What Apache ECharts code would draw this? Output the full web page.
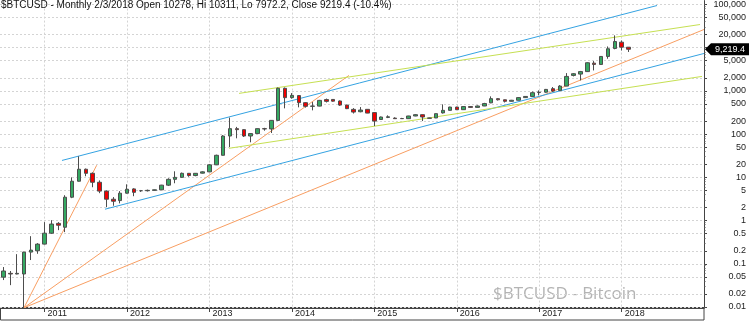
<!DOCTYPE html>
<html><head><meta charset="utf-8">
<script src="https://cdn.jsdelivr.net/npm/echarts@6/dist/echarts.min.js"></script>
<style>html,body{margin:0;padding:0;background:#fff}#c{width:749px;height:321px}</style>
</head><body><div id="c"></div>
<script>
const months = ['2010-07','2010-08','2010-09','2010-10','2010-11','2010-12',
'2011-01','2011-02','2011-03','2011-04','2011-05','2011-06','2011-07','2011-08','2011-09','2011-10','2011-11','2011-12',
'2012-01','2012-02','2012-03','2012-04','2012-05','2012-06','2012-07','2012-08','2012-09','2012-10','2012-11','2012-12',
'2013-01','2013-02','2013-03','2013-04','2013-05','2013-06','2013-07','2013-08','2013-09','2013-10','2013-11','2013-12',
'2014-01','2014-02','2014-03','2014-04','2014-05','2014-06','2014-07','2014-08','2014-09','2014-10','2014-11','2014-12',
'2015-01','2015-02','2015-03','2015-04','2015-05','2015-06','2015-07','2015-08','2015-09','2015-10','2015-11','2015-12',
'2016-01','2016-02','2016-03','2016-04','2016-05','2016-06','2016-07','2016-08','2016-09','2016-10','2016-11','2016-12',
'2017-01','2017-02','2017-03','2017-04','2017-05','2017-06','2017-07','2017-08','2017-09','2017-10','2017-11','2017-12',
'2018-01','2018-02'];

const opens = [0.049,0.060,0.058,0.058,0.186,0.20,
0.285,0.51,0.86,0.70,3.47,8.13,15.4,12.4,7.7,4.8,3.12,2.9,
4.3,5.4,4.9,4.9,5.0,5.15,6.6,9.0,10.0,12.4,11.0,12.5,
13.4,19.5,32.4,90.5,134,127,90.5,103,134,132,208,1150,
700,780,535,440,445,630,635,585,470,374,330,375,
315,218,244,235,230,228,263,282,232,237,310,355,
423,368,435,416,448,530,662,624,575,608,700,745,
920,935,1127,1029,1294,2286,2450,2800,4395,4100,6280,9600,
13430,10278];

const closes = [0.068,0.058,0.060,0.186,0.207,0.285,
0.51,0.83,0.78,3.47,8.13,15.4,12.4,7.7,4.8,3.12,2.8,4.3,
5.3,4.5,4.9,5.0,5.15,6.6,9.0,10.0,12.4,11.0,12.4,13.4,
19.5,32.4,90.5,134,127,90.5,103,134,132,208,1150,698,
789,535,440,448,604,573,580,470,389,324,361,307,
201,249,252,228,228,263,282,249,237,298,355,423,
368,435,416,448,510,662,624,575,608,700,745,910,
935,1084,991,1294,2166,2500,2800,4490,4100,6280,9460,13900,
10278,9219.4];

const lows = [0.042,0.032,0.057,0.0096,0.122,0.17,
0.28,0.49,0.60,0.54,3.3,8.0,10.6,5.9,4.3,2.04,2.2,2.5,
4.2,3.66,4.6,4.7,4.9,5.1,6.3,7.3,9.8,10.3,10.6,12.3,
13.2,19.2,32.0,50.4,80,86,64.7,101,120,106,205,395,
661,417,410,355,440,540,565,450,380,300,320,305,
154,215,235,225,225,225,260,201,228,235,300,350,
360,365,410,410,445,520,600,540,570,605,690,740,
789,910,940,990,1290,2166,1750,2750,2980,4050,5555,9200,
8640,7972.2];

const highs = [0.084,0.068,0.167,0.19,0.435,0.30,
0.92,1.02,0.92,3.86,10.0,30.7,16.0,13.0,8.5,5.0,3.5,4.8,
6.9,5.6,5.1,5.2,5.2,6.7,9.5,13.8,12.9,12.6,12.6,13.8,
20.4,33.5,95,241,147,130,105,135,140,212,1200,1200,
891,800,550,552,620,665,640,600,480,400,423,380,
320,255,272,245,238,265,290,285,240,300,488,430,
430,440,440,460,530,748,680,630,620,720,750,970,
1029,1110,1230,1360,2585,2585,2900,4600,4900,6400,10690,19300,
14700,10311];

// price scale tick labels / grid levels
const yLabelValues = [0.01,0.02,0.05,0.1,0.2,0.5,1,2,5,10,20,50,100,200,500,1000,2000,5000,20000,50000,100000];
const yGridValues = [0.01,0.02,0.05,0.1,0.2,0.5,1,2,5,10,20,50,100,200,500,1000,2000,5000,10000,20000,50000,100000];
const minorDecades = [0.01,0.1,1,10,100,1000,10000];
const minorMultipliers = [1,2,3,4,5,6,7,8,9];

const lastClose = 9219.4;
const headerText = '$BTCUSD - Monthly 2/3/2018 Open 10278, Hi 10311, Lo 7972.2, Close 9219.4 (-10.4%)';
const watermarkText = '$BTCUSD - Bitcoin';

// trend lines: [month index, price]
const trendBlueUpper = [[8.53, 24.6], [95.15, 94700]];
const trendBlueLower = [[14.79, 1.83], [101.99, 7360]];
const trendOrangeSteep = [[3, 0.0096], [13.58, 19.05]];
const trendOrangeMid = [[3, 0.0096], [50.31, 2286]];
const trendOrangeShallow = [[3, 0.0096], [101.99, 26400]];
const trendYellowUpper = [[34.30, 877], [101.41, 34400]];
const trendYellowLower = [[32.84, 47.0], [101.7, 2167]];

const L = Math.log10;
const X_MIN = -0.495, X_MAX = 101.99;
const Y_MIN = -2.0236, Y_MAX = 5.0912;

const yearIdx = months.map((m, i) => m.endsWith('-01') ? i : -1).filter(i => i >= 0);
const minorTicks = [];
minorDecades.forEach(d => minorMultipliers.forEach(k => minorTicks.push(L(d * k))));
minorTicks.push(L(100000));

function fmtPrice(v) {
  const p = Math.round(Math.pow(10, v) * 100) / 100;
  return p >= 1000 ? p.toLocaleString('en-US') : String(p);
}

const candleData = months.map((m, i) => [i, L(opens[i]), L(closes[i]), L(lows[i]), L(highs[i])]);
const lineSeries = (pts, color) => ({
  type: 'line', data: pts.map(p => [p[0], L(p[1])]), showSymbol: false, symbol: 'none',
  lineStyle: { color: color, width: 1 }, silent: true, z: 1
});

const FONT = 'Liberation Sans, Arial, sans-serif';
const gridLine = { show: true, lineStyle: { type: [2, 2], color: '#d4d4d4', width: 1 } };

const chart = echarts.init(document.getElementById('c'), null, { renderer: 'canvas' });
chart.setOption({
  animation: false,
  backgroundColor: '#fff',
  title: { text: headerText, left: 1, top: 0, padding: 0,
    textStyle: { fontSize: 10, fontWeight: 'normal', color: '#111', fontFamily: FONT } },
  grid: { left: 0, right: 45, top: 0, bottom: 13, containLabel: false },
  xAxis: {
    type: 'value', min: X_MIN, max: X_MAX,
    axisLine: { show: true, onZero: false, lineStyle: { color: '#444' } },
    axisTick: { show: true, customValues: yearIdx, length: 4, lineStyle: { color: '#444' } },
    axisLabel: { customValues: yearIdx, formatter: v => months[Math.round(v)].slice(0, 4),
      align: 'left', padding: [0, 0, 0, 3], margin: 1, fontSize: 9, color: '#222', fontFamily: FONT },
    splitLine: gridLine
  },
  yAxis: [{
    type: 'value', position: 'right', min: Y_MIN, max: Y_MAX,
    axisLine: { show: true, onZero: false, lineStyle: { color: '#444' } },
    axisTick: { show: true, customValues: yGridValues.map(L), length: 3, lineStyle: { color: '#444' } },
    axisLabel: { customValues: yLabelValues.map(L), formatter: fmtPrice, align: 'right', margin: 42,
      fontSize: 9, color: '#222', fontFamily: FONT },
    splitLine: gridLine
  }, {
    type: 'value', position: 'right', min: Y_MIN, max: Y_MAX, offset: 0,
    axisLine: { show: false, onZero: false },
    axisTick: { show: true, customValues: minorTicks, length: 1.5, lineStyle: { color: '#555' } },
    axisLabel: { show: false },
    splitLine: { show: false }
  }],
  graphic: [
    { type: 'rect', shape: { x: 0.5, y: 307.5, width: 703.5, height: 12.5 },
      style: { fill: 'none', stroke: '#444', lineWidth: 1 }, silent: true },
    { type: 'text', x: 493, y: 294.5,
      style: { text: watermarkText, font: '17px "Open Sans", sans-serif', fill: '#b4b4b4',
        align: 'left', verticalAlign: 'middle' }, silent: true }
  ],
  series: [
    lineSeries(trendOrangeSteep, '#f89e62'),
    lineSeries(trendOrangeMid, '#f89e62'),
    lineSeries(trendOrangeShallow, '#f89e62'),
    lineSeries(trendBlueUpper, '#35a3e2'),
    lineSeries(trendBlueLower, '#35a3e2'),
    lineSeries(trendYellowUpper, '#c6e052'),
    lineSeries(trendYellowLower, '#c6e052'),
    {
      type: 'candlestick', data: candleData, barWidth: 4, z: 3,
      itemStyle: { color: '#35a862', color0: '#f00000', borderColor: '#4d4d4d', borderColor0: '#4d4d4d', borderWidth: 1 },
      markPoint: {
        silent: true, animation: false,
        data: [{ coord: [X_MAX, L(lastClose)] }],
        symbol: 'path://M0,6L6,0L44,0L44,12L6,12Z', symbolSize: [44, 12], symbolOffset: [23, 0],
        itemStyle: { color: '#000' },
        label: { show: true, position: 'inside', offset: [3, 0], formatter: () => lastClose.toLocaleString('en-US'),
          color: '#fff', fontSize: 9, fontFamily: FONT }
      }
    }
  ]
});
</script></body></html>
